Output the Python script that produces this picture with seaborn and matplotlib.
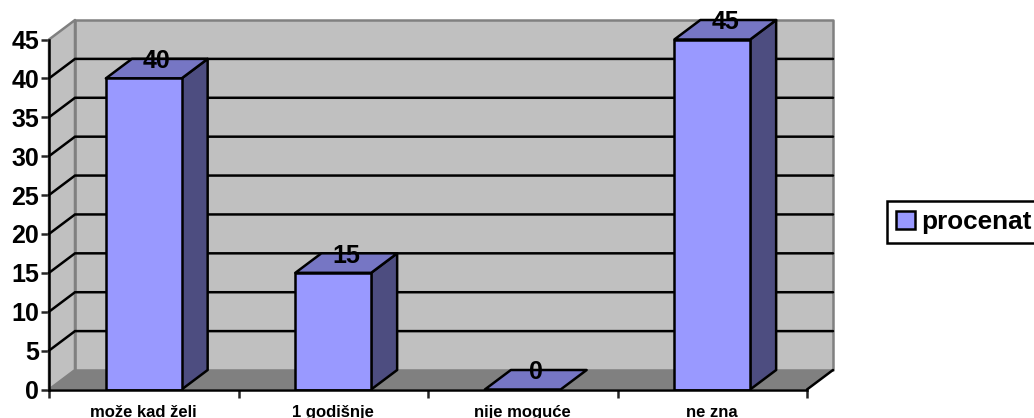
import matplotlib
matplotlib.use('Agg')
import matplotlib.pyplot as plt
from matplotlib.patches import Patch, Polygon
import pandas as pd
import seaborn as sns

# ── Data ──────────────────────────────────────────────
categories = ["može kad želi", "1 godišnje", "nije moguće", "ne zna"]
values = [40, 15, 0, 45]
y_ticks = [0, 5, 10, 15, 20, 25, 30, 35, 40, 45]
series_name = "procenat"

WALL = "#C0C0C0"
FLOOR = "#808080"
BAR_FRONT = "#9999FF"
BAR_TOP = "#7676C4"
BAR_SIDE = "#4D4D80"

# depth of the fake 3D box, in data units
DX = 26 / 189.5
DY = 19.5 / (350 / 45)

sns.set_theme(style="white")
plt.rcParams['font.family'] = ['Liberation Sans', 'DejaVu Sans']

W, H = 1034, 418
fig = plt.figure(figsize=(W / 100, H / 100), dpi=100)
ax = fig.add_axes([49 / W, (H - 389.5) / H, 758 / W, 350 / H])
ax.patch.set_alpha(0)

df = pd.DataFrame({"category": categories, series_name: values})
sns.barplot(data=df, x="category", y=series_name, color=BAR_FRONT, saturation=1,
            width=0.4, ax=ax, zorder=5, edgecolor="black", linewidth=1.8)
ax.set_xlim(-0.5, 3.5)
ax.set_ylim(0, 45)


def poly(ax, pts, face, edge="none", lw=0, z=1):
    ax.add_patch(Polygon(pts, closed=True, facecolor=face, edgecolor=edge, linewidth=lw,
                         clip_on=False, zorder=z, joinstyle="round"))


x0, x1 = -0.5, 3.5
ymax = y_ticks[-1]

# back wall, side wall, floor
poly(ax, [(x0 + DX, DY), (x1 + DX, DY), (x1 + DX, ymax + DY), (x0 + DX, ymax + DY)],
     WALL, "#808080", 1.8)
poly(ax, [(x0, 0), (x0 + DX, DY), (x0 + DX, ymax + DY), (x0, ymax)], WALL, "#808080", 1.8)
poly(ax, [(x0, 0), (x1, 0), (x1 + DX, DY), (x0 + DX, DY)], FLOOR, "none", 0)
# the front-right floor edge is black in the original
ax.plot([x1, x1 + DX], [0, DY], color="black", lw=1.8, clip_on=False, zorder=2)

# gridlines on both walls
for t in y_ticks[1:-1]:
    ax.plot([x0, x0 + DX, x1 + DX], [t, t + DY, t + DY], color="black", lw=1.8,
            clip_on=False, zorder=2, solid_joinstyle="miter")

# the extruded parts of each bar
for patch, val in zip(ax.patches[:len(values)], values):
    left = patch.get_x()
    right = left + patch.get_width()
    top = patch.get_height()
    if top > 0:
        poly(ax, [(right, 0), (right + DX, DY), (right + DX, top + DY), (right, top)],
             BAR_SIDE, "black", 1.8, 4)
    poly(ax, [(left, top), (right, top), (right + DX, top + DY), (left + DX, top + DY)],
         BAR_TOP, "black", 1.8, 4)
    ax.text(left + patch.get_width() / 2 + DX / 2, top + DY - 0.3, str(val), ha="center",
            va="center", fontsize=18, fontweight="bold", color="black", zorder=7)

# axes
sns.despine(ax=ax, top=True, right=True)
for side in ["left", "bottom"]:
    ax.spines[side].set_linewidth(1.8)
    ax.spines[side].set_color("black")
    ax.spines[side].set_zorder(6)

ax.set_yticks(y_ticks)
ax.set_xticks([-0.5, 0.5, 1.5, 2.5, 3.5])
ax.set_xticklabels([])
ax.set_xticks(range(len(categories)), labels=categories, minor=True)
ax.tick_params(axis="y", which="major", left=True, length=6, width=1.8, labelsize=18, pad=1)
ax.tick_params(axis="x", which="major", bottom=True, length=6, width=1.8)
ax.tick_params(axis="x", which="minor", bottom=False, labelsize=12, pad=7)
for lab in ax.get_yticklabels() + ax.get_xticklabels(minor=True):
    lab.set_fontweight("bold")
    lab.set_color("black")
ax.set_xlabel("")
ax.set_ylabel("")

leg = fig.legend(handles=[Patch(facecolor=BAR_FRONT, edgecolor="black", linewidth=1.8, label=series_name)],
                 loc="center left", bbox_to_anchor=(887 / W, (H - 222) / H), frameon=True, fancybox=False,
                 edgecolor="black", framealpha=1, prop={"size": 18.8, "weight": "bold"},
                 handlelength=0.7, handleheight=0.7, handletextpad=0.24, borderpad=0.36, borderaxespad=0)
leg.get_frame().set_linewidth(1.8)
for t in leg.get_texts():
    t.set_color("black")

fig.savefig("out.png", dpi=100)
